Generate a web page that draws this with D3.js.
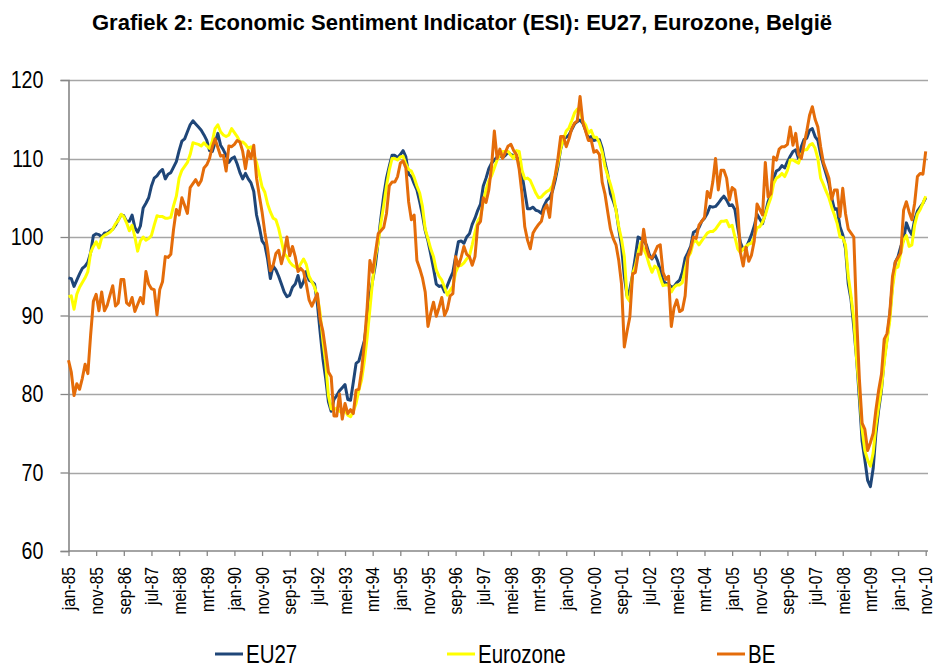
<!DOCTYPE html>
<html>
<head>
<meta charset="utf-8">
<script src="https://cdn.jsdelivr.net/npm/d3@7/dist/d3.min.js"></script>
<style>
  body { margin: 0; background: #fff; }
  svg { display: block; }
  text { font-family: "Liberation Sans", Arial, sans-serif; fill: #000; }
</style>
</head>
<body>
<div class="chart-container"></div>
<script>
// monthly ESI values, jan-85 .. nov-10 (311 months)
const eu27 = [
  94.8, 94.7, 93.7, 94.5, 95.3, 96.0, 96.3, 96.8, 98.0, 100.2,
  100.4, 100.3, 100.0, 100.5, 100.5, 100.8, 101.0, 101.5, 102.2, 102.8,
  102.7, 102.0, 102.0, 102.8, 101.2, 100.6, 101.4, 103.7, 104.3, 105.0,
  106.5, 107.5, 107.8, 108.3, 108.6, 107.4, 108.0, 108.2, 108.9, 109.6,
  111.0, 112.2, 112.5, 113.4, 114.3, 114.8, 114.4, 114.0, 113.6, 113.0,
  112.3, 111.0, 110.9, 112.0, 113.2, 111.7, 111.1, 110.4, 109.5, 110.0,
  110.2, 109.3, 108.2, 107.4, 108.1, 107.4, 106.9, 105.8, 102.8, 101.3,
  99.5, 99.0, 97.2, 94.7, 96.3, 95.8, 95.0, 94.0, 93.0, 92.4,
  92.6, 93.6, 94.0, 95.1, 93.6, 94.3, 95.6, 94.5, 94.3, 94.0,
  91.5, 87.9, 84.5, 82.0, 79.0, 77.8, 79.3, 79.8, 80.4, 80.8,
  81.2, 79.3, 79.2, 81.5, 83.9, 84.2, 85.5, 86.8, 89.5, 92.5,
  94.5, 96.5, 99.5, 102.5, 105.3, 107.5, 109.0, 110.4, 110.4, 110.1,
  110.5, 111.0, 110.2, 108.0, 107.7, 106.8, 106.0, 104.5, 102.8, 100.8,
  99.5, 97.8, 96.0, 94.0, 93.7, 93.8, 93.0, 93.8, 94.7, 95.5,
  97.5, 99.4, 99.5, 99.2, 100.0, 100.4, 101.6, 102.4, 103.4, 104.2,
  106.5, 107.5, 108.7, 109.4, 109.8, 110.2, 110.4, 110.1, 110.4, 110.8,
  110.5, 110.4, 110.2, 109.8, 108.0, 105.8, 103.6, 103.6, 103.8, 103.4,
  103.3, 103.0, 104.0, 104.7, 105.0, 105.8, 107.2, 109.0, 111.2, 112.5,
  112.7, 113.0, 113.7, 114.4, 114.7, 114.9, 114.5, 113.6, 112.6, 112.8,
  112.3, 112.4, 112.4, 111.3, 109.5, 108.0, 105.5, 104.6, 103.5, 101.0,
  98.8, 95.0, 92.5, 93.3, 95.2, 97.5, 100.0, 99.8, 99.5, 99.0,
  97.8, 97.2, 97.8, 97.0, 95.8, 94.4, 94.1, 94.0, 93.6, 93.7,
  94.2, 94.5, 95.5, 97.3, 98.0, 98.8, 100.6, 100.8, 101.2, 102.0,
  102.4, 103.0, 103.9, 103.8, 103.9, 104.3, 104.8, 105.2, 104.7, 104.0,
  104.1, 103.5, 101.2, 99.3, 98.4, 98.6, 99.4, 100.3, 101.4, 102.9,
  102.3, 101.7, 103.0, 104.5, 105.5, 107.5, 108.4, 108.6, 109.1, 108.8,
  109.6, 110.3, 110.9, 111.1, 110.0, 111.5, 112.4, 112.6, 113.6, 113.8,
  112.8, 112.3, 110.5, 109.2, 108.0, 106.8, 105.0, 103.5, 103.6, 101.3,
  100.3, 98.5, 94.0, 92.0, 88.5, 84.5, 79.5, 74.0, 71.6, 69.0,
  68.2, 70.5, 75.0, 78.0, 80.5, 84.5, 87.0, 90.0, 94.0, 96.8,
  97.5, 98.8, 99.6, 101.8, 100.9, 100.3, 102.2, 103.3, 103.8, 104.3, 105.0
];

const eurozone = [
  92.4, 92.5, 90.8, 92.7, 93.6, 94.2, 94.8, 95.6, 98.0, 98.8,
  99.4, 98.6, 99.9, 100.2, 100.4, 100.6, 101.0, 101.7, 102.1, 102.9,
  102.6, 101.8, 100.8, 101.5, 100.0, 98.2, 99.5, 100.0, 99.6, 99.8,
  100.2, 101.5, 102.7, 102.6, 102.6, 102.4, 102.4, 102.5, 104.0, 105.2,
  107.5, 108.5, 109.0, 109.5, 110.5, 112.0, 111.9, 111.8, 111.6, 112.0,
  111.6, 111.3, 112.2, 113.8, 114.3, 113.4, 113.0, 112.8, 113.0, 113.8,
  113.3, 112.8, 112.1, 112.1, 111.8, 111.3, 111.5, 110.5, 109.5, 108.0,
  106.4, 105.7, 104.2, 103.2, 102.4, 102.2, 101.1, 99.5, 97.9, 97.5,
  96.8, 96.4, 96.2, 95.9, 96.6, 97.2, 96.5, 95.0, 94.3, 93.6,
  92.5, 90.3, 86.8, 84.0, 79.8, 78.1, 78.0, 78.2, 77.8, 77.6,
  77.9, 77.3, 77.1, 77.8, 78.8, 80.5, 81.8, 84.2, 87.2, 90.8,
  94.5, 97.5, 99.3, 101.8, 104.0, 106.5, 108.5, 110.0, 110.0, 109.8,
  110.2, 110.3, 109.3, 108.6, 108.4, 107.6, 106.5, 105.6, 103.9, 101.0,
  99.8, 98.5, 97.5, 95.8, 95.0, 94.5, 93.6, 92.6, 93.2, 93.7,
  95.5, 96.3, 96.4, 96.7, 97.2, 97.6, 99.0, 100.6, 102.0, 102.6,
  104.5, 106.0, 107.2, 107.8, 108.8, 109.8, 110.5, 110.9, 110.9, 110.9,
  110.4, 110.0, 111.0, 110.9, 108.5, 107.4, 107.5, 107.2, 106.4, 105.6,
  105.0, 105.1, 105.5, 105.8, 106.0, 106.5, 107.8, 109.4, 111.3, 112.5,
  113.5, 113.9, 114.8, 115.8, 116.3, 116.0, 114.8, 114.3, 113.2, 113.6,
  112.7, 112.7, 112.0, 110.8, 109.0, 107.8, 106.7, 105.4, 103.4, 101.3,
  99.7, 97.5, 92.3, 91.8, 95.3, 96.3, 98.0, 99.3, 98.5, 97.7,
  96.5, 95.5, 96.3, 96.0, 94.8, 93.8, 93.9, 93.9, 93.0, 93.6,
  93.9, 93.9, 94.2, 95.9, 97.4, 98.0, 99.4, 99.5, 99.0, 99.5,
  100.0, 100.5, 100.7, 100.7, 101.0, 101.5, 102.0, 102.0, 102.1, 101.3,
  101.5, 100.0, 98.5, 98.0, 98.5, 98.8, 99.1, 99.2, 100.0, 101.2,
  101.3, 101.9, 102.8, 104.0, 105.0, 106.8, 107.5, 107.7, 108.1, 107.7,
  108.5, 109.8, 109.8, 109.6, 109.4, 110.5, 111.1, 111.1, 111.7, 111.9,
  111.3, 110.0, 107.5, 106.7, 105.8, 105.0, 103.8, 102.8, 101.7, 100.0,
  99.9, 99.0, 95.0, 92.5, 89.5, 84.5, 80.5, 75.5, 72.8, 71.6,
  70.8, 72.5, 76.0, 78.5, 80.8, 84.0, 86.8, 89.3, 93.5, 96.0,
  96.2, 98.0, 99.6, 100.2, 98.8, 99.0, 101.5, 102.9, 103.5, 104.3, 105.2
];

const belgium = [
  84.3, 82.8, 79.8, 81.3, 80.6, 82.0, 83.8, 82.6, 87.5, 91.8,
  92.7, 90.6, 93.0, 90.6, 91.3, 92.6, 93.8, 91.2, 91.6, 94.6,
  94.6, 91.6, 91.3, 92.3, 90.5, 91.4, 92.3, 91.5, 95.6, 94.0,
  93.4, 93.3, 90.1, 93.3, 94.3, 97.5, 97.4, 97.8, 101.0, 103.5,
  102.8, 105.0, 104.0, 103.0, 106.3, 106.8, 107.3, 106.6, 107.2, 108.8,
  109.2, 110.0, 111.5, 112.5, 111.4, 110.3, 110.4, 108.4, 111.6, 111.5,
  111.8, 112.3, 112.1, 110.9, 108.7, 111.0, 110.0, 111.7, 107.5, 105.3,
  103.2, 100.6, 98.5, 95.7, 96.4, 97.9, 98.3, 96.6, 98.0, 100.0,
  97.6, 98.8, 97.5, 95.6, 96.0, 95.6, 94.0, 92.0, 91.2, 92.0,
  92.8, 89.5, 88.0, 85.5, 82.8, 82.2, 77.2, 77.2, 80.0, 76.8,
  78.8, 77.5, 78.0, 77.5, 80.5, 80.6, 83.0, 86.5, 91.0, 97.0,
  95.5, 98.0, 100.4, 100.8, 101.2, 103.0, 106.5, 107.0, 107.0, 107.7,
  109.4, 109.7, 108.8, 104.5, 102.2, 102.8, 97.0, 96.0, 94.8, 93.0,
  88.6, 90.3, 91.7, 89.9, 91.0, 92.3, 90.0, 90.8, 92.5, 92.8,
  97.5, 96.3, 97.4, 98.8, 97.8, 97.5, 96.4, 97.5, 101.5, 102.0,
  105.0, 104.4, 106.0, 109.0, 113.5, 110.0, 111.2, 110.0, 110.8, 111.6,
  111.8, 111.0, 110.5, 108.6, 105.5, 101.3, 99.6, 98.5, 100.5, 101.1,
  101.6, 102.0, 103.5, 104.1, 102.5, 106.0, 107.8, 110.0, 112.8, 112.8,
  111.5, 112.5, 113.8, 114.5, 114.8, 117.9, 114.6, 113.5, 112.3, 112.4,
  110.8, 111.0, 110.5, 107.0, 105.5, 103.2, 101.0, 99.8, 99.0, 97.0,
  94.0, 86.0, 88.0, 89.8, 95.3, 95.5, 97.8, 97.8, 101.0, 98.6,
  97.5, 97.3, 98.0, 98.8, 99.0, 95.5, 94.6, 95.0, 88.6, 91.0,
  92.0, 90.5, 90.7, 92.5, 97.5, 98.5, 100.0, 99.8, 101.5, 102.0,
  102.5, 105.8, 105.0, 107.0, 110.0, 106.0, 108.5, 108.5, 107.5, 104.7,
  106.3, 106.0, 103.5, 98.0, 96.3, 98.7, 96.9, 97.7, 99.5, 104.2,
  103.5, 102.8, 109.5, 105.1, 105.5, 110.2, 109.8, 111.2, 111.5, 111.5,
  111.8, 114.0, 111.7, 113.2, 110.5, 110.0, 111.8, 113.5, 115.5, 116.6,
  115.0, 114.0, 111.5, 109.5, 108.5, 107.5, 104.8, 106.0, 106.0, 102.6,
  106.2, 103.0, 101.0, 100.5, 100.0, 90.0, 82.0, 76.3, 75.5, 72.8,
  73.8, 75.0, 78.0, 80.5, 82.5, 87.0, 87.7, 90.3, 95.0, 96.8,
  97.4, 98.0, 103.4, 104.5, 103.2, 102.2, 104.3, 107.7, 108.1, 108.0, 110.9
];

const tickLabels = [
  "jan-85", "nov-85", "sep-86", "jul-87", "mei-88", "mrt-89", "jan-90", "nov-90",
  "sep-91", "jul-92", "mei-93", "mrt-94", "jan-95", "nov-95", "sep-96", "jul-97",
  "mei-98", "mrt-99", "jan-00", "nov-00", "sep-01", "jul-02", "mei-03", "mrt-04",
  "jan-05", "nov-05", "sep-06", "jul-07", "mei-08", "mrt-09", "jan-10", "nov-10"
];
const tickStep = 10; // one label every 10 months
const yTicks = [60, 70, 80, 90, 100, 110, 120];

const series = [
  {name: "EU27", values: eu27, color: "#1f4678"},
  {name: "Eurozone", values: eurozone, color: "#ffff00"},
  {name: "BE", values: belgium, color: "#e46c0a"}
];

const W = 933, H = 665;
const plot = {left: 68.5, right: 928, top: 80, bottom: 551};
const narrow = 0.82; // squeeze Liberation Sans to look like a narrow face

const svg = d3.select(".chart-container").append("svg")
    .attr("width", W)
    .attr("height", H);

const x = d3.scaleLinear().domain([0, eu27.length - 1]).range([plot.left, 925.7]);
const y = d3.scaleLinear().domain([60, 120]).range([plot.bottom, plot.top]);

svg.append("text")
    .attr("x", 462)
    .attr("y", 30)
    .attr("text-anchor", "middle")
    .attr("textLength", 740)
    .attr("lengthAdjust", "spacingAndGlyphs")
    .style("font-size", "22px")
    .style("font-weight", "bold")
    .text("Grafiek 2: Economic Sentiment Indicator (ESI): EU27, Eurozone, België");

// gridlines
svg.append("g")
    .selectAll("line")
    .data(yTicks.filter(d => d > 60))
  .enter().append("line")
    .attr("x1", plot.left)
    .attr("x2", plot.right)
    .attr("y1", d => Math.round(y(d)) + 0.5)
    .attr("y2", d => Math.round(y(d)) + 0.5)
    .attr("stroke", "#a6a6a6")
    .attr("stroke-width", 1.3);

// y axis
const yAxis = svg.append("g")
    .attr("transform", "translate(" + plot.left + ",0)")
    .call(d3.axisLeft(y).tickValues(yTicks).tickSize(8).tickPadding(17));
yAxis.select(".domain").attr("stroke", "#868686").attr("stroke-width", 1.6);
yAxis.selectAll(".tick line").attr("stroke", "#868686").attr("stroke-width", 1.3);
yAxis.selectAll(".tick text")
    .attr("x", -25 / narrow)
    .attr("transform", "scale(" + narrow + ",1)")
    .style("font-size", "24px")
    .style("font-family", null)
    .attr("fill", "#000");

// x axis
const tickIdx = tickLabels.map((d, i) => i * tickStep);
const xAxis = svg.append("g")
    .attr("transform", "translate(0," + plot.bottom + ")")
    .call(d3.axisBottom(x).tickValues(tickIdx).tickSize(5).tickFormat((d, i) => tickLabels[i]));
xAxis.select(".domain").remove();
xAxis.append("line")
    .attr("x1", plot.left).attr("x2", plot.right)
    .attr("stroke", "#868686").attr("stroke-width", 1.6);
xAxis.selectAll(".tick line").attr("stroke", "#868686").attr("stroke-width", 1.3);
xAxis.selectAll(".tick text")
    .attr("transform", "translate(0,16) rotate(-90) scale(" + narrow + ",1)")
    .attr("x", 0)
    .attr("y", 0)
    .attr("dy", "0.33em")
    .style("text-anchor", "end")
    .style("font-size", "19px")
    .style("font-family", null)
    .attr("fill", "#000");

// lines
const line = d3.line()
    .x((d, i) => x(i))
    .y(d => y(d));

svg.append("g")
    .selectAll("path")
    .data(series)
  .enter().append("path")
    .attr("d", d => line(d.values))
    .attr("fill", "none")
    .attr("stroke", d => d.color)
    .attr("stroke-width", 3)
    .attr("stroke-linejoin", "round");

// legend
const legendX = [215, 447, 717];
const legend = svg.append("g")
    .selectAll("g")
    .data(series)
  .enter().append("g")
    .attr("transform", (d, i) => "translate(" + legendX[i] + ",654)");
legend.append("line")
    .attr("x1", 0).attr("x2", 28)
    .attr("stroke", d => d.color)
    .attr("stroke-width", 3);
legend.append("text")
    .attr("transform", "scale(" + narrow + ",1)")
    .attr("x", 31 / narrow)
    .attr("y", 8.5)
    .style("font-size", "25px")
    .text(d => d.name);
</script>
</body>
</html>
